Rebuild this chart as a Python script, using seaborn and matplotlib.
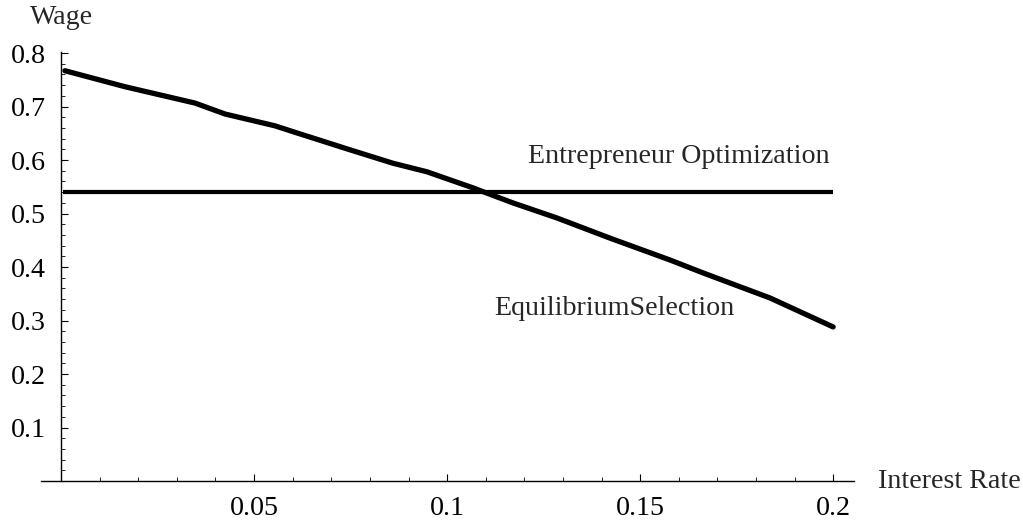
import matplotlib
matplotlib.use("Agg")
import matplotlib.pyplot as plt
import seaborn as sns
import pandas as pd
from matplotlib.ticker import MultipleLocator, FixedLocator

# Equilibrium selection curve
rate_eq = [0.001, 0.0166, 0.0347, 0.0425, 0.0554, 0.0601, 0.0749, 0.086, 0.0948,
           0.1067, 0.117, 0.1285, 0.1422, 0.1578, 0.1663, 0.1837, 0.2]
wage_eq = [0.767, 0.737, 0.7065, 0.686, 0.664, 0.653, 0.619, 0.594, 0.578,
           0.548, 0.520, 0.4916, 0.454, 0.413, 0.389, 0.342, 0.288]

# Entrepreneur optimization (flat)
rate_opt = [0.0005, 0.2]
wage_opt = [0.540, 0.540]

x_ticks = [0.05, 0.1, 0.15, 0.2]
x_tick_labels = ["0.05", "0.1", "0.15", "0.2"]
y_ticks = [0.1, 0.2, 0.3, 0.4, 0.5, 0.6, 0.7, 0.8]
y_tick_labels = ["0.1", "0.2", "0.3", "0.4", "0.5", "0.6", "0.7", "0.8"]

sns.set_theme(style="white")
plt.rcParams["font.family"] = ["Liberation Serif", "DejaVu Serif"]
fs = 20.2

eq_df = pd.DataFrame({"rate": rate_eq, "wage": wage_eq})
opt_df = pd.DataFrame({"rate": rate_opt, "wage": wage_opt})

fig = plt.figure(figsize=(10.23, 5.22), dpi=100)
ax = fig.add_axes([41 / 1023, 41 / 522, (854 - 41) / 1023, (481 - 52) / 522])

sns.lineplot(data=eq_df, x="rate", y="wage", ax=ax, color="black", linewidth=3.8,
             solid_capstyle="round", solid_joinstyle="round", sort=False)
sns.lineplot(data=opt_df, x="rate", y="wage", ax=ax, color="black", linewidth=3.0,
             solid_capstyle="butt", sort=False)

ax.set_xlim(-0.0052, 0.2054)
ax.set_ylim(0, 0.802)

ax.spines["top"].set_visible(False)
ax.spines["right"].set_visible(False)
ax.spines["left"].set_position(("data", 0))
ax.spines["bottom"].set_position(("data", 0))
for s in ("left", "bottom"):
    ax.spines[s].set_color("black")
    ax.spines[s].set_linewidth(1.0)

ax.xaxis.set_major_locator(FixedLocator(x_ticks))
ax.set_xticklabels(x_tick_labels)
ax.xaxis.set_minor_locator(MultipleLocator(0.01))
ax.yaxis.set_major_locator(FixedLocator(y_ticks))
ax.set_yticklabels(y_tick_labels)
ax.yaxis.set_minor_locator(MultipleLocator(0.02))

ax.tick_params(axis="both", which="both", direction="in", colors="black",
               labelsize=fs, bottom=True, left=True)
ax.tick_params(axis="both", which="major", length=5, width=0.8)
ax.tick_params(axis="both", which="minor", length=3, width=0.6)
ax.tick_params(axis="x", which="major", pad=11)
ax.tick_params(axis="y", which="major", pad=11)

ax.set_xlabel("")
ax.set_ylabel("")
ax.grid(False)

ax.text(0.0, 0.866, "Wage", fontsize=fs, ha="center", va="center", clip_on=False)
ax.text(0.2117, 0.0, "Interest Rate", fontsize=fs, ha="left", va="center", clip_on=False)
ax.text(0.160, 0.606, "Entrepreneur Optimization", fontsize=fs, ha="center", va="center")
ax.text(0.1433, 0.323, "EquilibriumSelection", fontsize=fs, ha="center", va="center")

fig.savefig("out.png", dpi=100, facecolor="white")
